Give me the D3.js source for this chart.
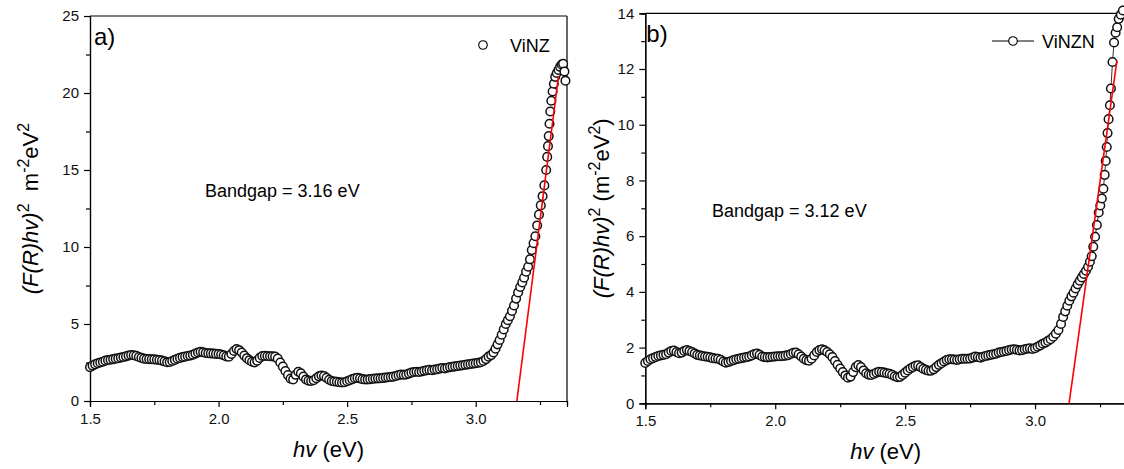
<!DOCTYPE html>
<html>
<head>
<meta charset="utf-8">
<script src="https://cdn.jsdelivr.net/npm/d3@7"></script>
<style>
  body { margin: 0; background: #fff; }
  svg { display: block; font-family: "Liberation Sans", Arial, sans-serif; }
  text { white-space: pre; }
</style>
</head>
<body>
<svg id="viz" width="1124" height="469"></svg>
<script>
// ---- data ----
var xTicks = [1.5, 2.0, 2.5, 3.0];
var xMinor = [1.75, 2.25, 2.75, 3.25];
var yTicksA = [0, 5, 10, 15, 20, 25];
var yMinorA = [2.5, 7.5, 12.5, 17.5, 22.5];
var yTicksB = [0, 2, 4, 6, 8, 10, 12, 14];
var yMinorB = [1, 3, 5, 7, 9, 11, 13];

// panel a) ViNZ
var vinzX = [
  1.50,1.51,1.52,1.53,1.54,1.55,1.56,1.57,1.58,1.59,
  1.60,1.61,1.62,1.63,1.64,1.65,1.66,1.67,1.68,1.69,
  1.70,1.71,1.72,1.73,1.74,1.75,1.76,1.77,1.78,1.79,
  1.80,1.81,1.82,1.83,1.84,1.85,1.86,1.87,1.88,1.89,
  1.90,1.91,1.92,1.93,1.94,1.95,1.96,1.97,1.98,1.99,
  2.00,2.01,2.02,2.03,2.04,2.05,2.06,2.07,2.08,2.09,
  2.10,2.11,2.12,2.13,2.14,2.15,2.16,2.17,2.18,2.19,
  2.20,2.21,2.22,2.23,2.24,2.25,2.26,2.27,2.28,2.29,
  2.30,2.31,2.32,2.33,2.34,2.35,2.36,2.37,2.38,2.39,
  2.40,2.41,2.42,2.43,2.44,2.45,2.46,2.47,2.48,2.49,
  2.50,2.51,2.52,2.53,2.54,2.55,2.56,2.57,2.58,2.59,
  2.60,2.61,2.62,2.63,2.64,2.65,2.66,2.67,2.68,2.69,
  2.70,2.71,2.72,2.73,2.74,2.75,2.76,2.77,2.78,2.79,
  2.80,2.81,2.82,2.83,2.84,2.85,2.86,2.87,2.88,2.89,
  2.90,2.91,2.92,2.93,2.94,2.95,2.96,2.97,2.98,2.99,
  3.00,3.01,3.02,3.03,3.04,3.05,
  3.060,3.069,3.077,3.085,3.093,3.101,3.109,3.117,3.125,3.133,
  3.141,3.149,3.157,3.165,3.173,3.181,3.188,3.196,3.204,3.211,
  3.218,3.225,3.232,3.239,3.246,3.253,3.260,3.267,3.274,3.278,
  3.281,3.284,3.287,3.290,3.294,3.299,3.304,3.309,3.315,3.322,
  3.328,3.334,3.340,3.345,3.349
];
var vinzY = [
  2.20,2.30,2.38,2.45,2.50,2.55,2.62,2.66,2.68,2.72,
  2.75,2.78,2.82,2.86,2.90,2.95,2.99,2.97,2.93,2.86,
  2.80,2.75,2.73,2.72,2.71,2.70,2.68,2.66,2.62,2.57,
  2.52,2.53,2.60,2.67,2.74,2.80,2.85,2.88,2.92,2.95,
  3.00,3.08,3.15,3.20,3.17,3.12,3.10,3.09,3.08,3.06,
  3.05,3.02,2.97,2.90,2.88,3.05,3.25,3.38,3.30,3.15,
  2.95,2.78,2.65,2.55,2.51,2.62,2.80,2.92,2.93,2.92,
  2.91,2.90,2.88,2.75,2.50,2.23,1.95,1.68,1.45,1.40,
  1.70,1.90,1.80,1.58,1.40,1.32,1.30,1.35,1.48,1.60,
  1.66,1.62,1.50,1.38,1.30,1.27,1.25,1.22,1.20,1.22,
  1.28,1.35,1.42,1.48,1.50,1.47,1.42,1.40,1.40,1.42,
  1.44,1.46,1.47,1.48,1.50,1.52,1.54,1.56,1.58,1.62,
  1.68,1.72,1.70,1.72,1.78,1.84,1.88,1.90,1.88,1.92,
  1.96,2.00,2.02,2.00,2.04,2.06,2.10,2.14,2.12,2.16,
  2.20,2.22,2.25,2.27,2.30,2.32,2.35,2.38,2.40,2.43,
  2.45,2.48,2.52,2.60,2.72,2.88,
  2.98,3.15,3.40,3.68,3.96,4.30,4.65,5.00,5.25,5.50,
  5.85,6.20,6.65,7.05,7.40,7.70,8.00,8.40,8.72,9.20,
  9.80,10.25,10.70,11.40,12.10,12.70,13.30,14.00,15.00,15.85,
  16.55,17.20,18.00,18.80,19.50,20.10,20.60,21.05,21.30,21.50,
  21.70,21.85,21.90,21.40,20.80
];
var fitA = [[3.16, 0], [3.322, 21.1]];

// panel b) ViNZN
var vinznX = [
  1.50,1.51,1.52,1.53,1.54,1.55,1.56,1.57,1.58,1.59,
  1.60,1.61,1.62,1.63,1.64,1.65,1.66,1.67,1.68,1.69,
  1.70,1.71,1.72,1.73,1.74,1.75,1.76,1.77,1.78,1.79,
  1.80,1.81,1.82,1.83,1.84,1.85,1.86,1.87,1.88,1.89,
  1.90,1.91,1.92,1.93,1.94,1.95,1.96,1.97,1.98,1.99,
  2.00,2.01,2.02,2.03,2.04,2.05,2.06,2.07,2.08,2.09,
  2.10,2.11,2.12,2.13,2.14,2.15,2.16,2.17,2.18,2.19,
  2.20,2.21,2.22,2.23,2.24,2.25,2.26,2.27,2.28,2.29,
  2.30,2.31,2.32,2.33,2.34,2.35,2.36,2.37,2.38,2.39,
  2.40,2.41,2.42,2.43,2.44,2.45,2.46,2.47,2.48,2.49,
  2.50,2.51,2.52,2.53,2.54,2.55,2.56,2.57,2.58,2.59,
  2.60,2.61,2.62,2.63,2.64,2.65,2.66,2.67,2.68,2.69,
  2.70,2.71,2.72,2.73,2.74,2.75,2.76,2.77,2.78,2.79,
  2.80,2.81,2.82,2.83,2.84,2.85,2.86,2.87,2.88,2.89,
  2.90,2.91,2.92,2.93,2.94,2.95,2.96,2.97,2.98,2.99,
  3.00,3.01,3.02,3.03,3.04,3.05,3.06,3.07,3.08,3.09,
  3.100,3.108,3.116,3.124,3.132,3.140,3.148,3.156,3.164,3.172,
  3.180,3.188,3.196,3.204,3.211,3.218,3.224,3.231,3.238,3.245,
  3.251,3.257,3.263,3.268,3.272,3.276,3.279,3.283,3.288,3.292,
  3.298,3.304,3.310,3.316,3.322,3.330,3.338
];
var vinznY = [
  1.45,1.52,1.58,1.62,1.66,1.70,1.72,1.74,1.76,1.82,
  1.88,1.89,1.84,1.80,1.82,1.88,1.91,1.88,1.84,1.79,
  1.74,1.72,1.70,1.68,1.67,1.65,1.62,1.61,1.60,1.56,
  1.50,1.46,1.48,1.52,1.55,1.58,1.60,1.62,1.64,1.66,
  1.68,1.72,1.77,1.79,1.74,1.68,1.66,1.65,1.66,1.67,
  1.68,1.69,1.69,1.70,1.71,1.73,1.77,1.81,1.82,1.76,
  1.68,1.60,1.55,1.53,1.60,1.72,1.84,1.91,1.94,1.90,
  1.84,1.76,1.66,1.52,1.38,1.25,1.12,1.00,0.92,0.96,
  1.12,1.30,1.37,1.30,1.18,1.08,1.03,1.02,1.05,1.10,
  1.13,1.12,1.10,1.08,1.06,1.02,0.97,0.94,0.95,1.02,
  1.10,1.18,1.25,1.30,1.35,1.36,1.30,1.24,1.20,1.17,
  1.17,1.22,1.30,1.38,1.44,1.50,1.55,1.58,1.58,1.57,
  1.56,1.58,1.60,1.60,1.60,1.61,1.64,1.68,1.66,1.64,
  1.67,1.70,1.72,1.74,1.76,1.78,1.82,1.84,1.86,1.88,
  1.91,1.93,1.94,1.92,1.90,1.91,1.94,1.96,1.97,1.95,
  1.98,2.03,2.08,2.14,2.18,2.24,2.30,2.39,2.50,2.63,
  2.85,3.10,3.30,3.50,3.68,3.84,3.97,4.12,4.27,4.40,
  4.52,4.64,4.76,4.90,5.08,5.28,5.62,5.98,6.40,6.85,
  7.10,7.35,7.70,8.20,8.70,9.20,9.70,10.20,10.70,11.30,
  12.25,12.95,13.30,13.50,13.80,13.95,14.10
];
var fitB = [[3.131, 0], [3.315, 12.3]];

// ---- drawing ----
var svg = d3.select("#viz");
var FS_TICK = 15, FS_TITLE = 22, R = 4.3;

// text with italic / superscript pieces
function richText(sel, parts, fs) {
  var shift = 0;
  parts.forEach(function(p) {
    var t = sel.append("tspan").text(p.t);
    var target = p.sup ? -Math.round(fs * 0.42) : 0;
    if (target !== shift) { t.attr("dy", target - shift); shift = target; }
    if (p.sup) t.attr("font-size", Math.round(fs * 0.72));
    if (p.it) t.attr("font-style", "italic");
  });
}

function drawPanel(cfg) {
  var x = d3.scaleLinear().domain([1.5, cfg.xmax]).range([cfg.left, cfg.right]);
  var y = d3.scaleLinear().domain([0, cfg.ymax]).range([cfg.bottom, cfg.top]);
  var g = svg.append("g");

  // frame: top and right lines
  g.append("line").attr("x1", cfg.left).attr("x2", cfg.right)
    .attr("y1", cfg.top).attr("y2", cfg.top)
    .attr("stroke", "#000").attr("stroke-width", 1.2);
  g.append("line").attr("x1", cfg.right).attr("x2", cfg.right)
    .attr("y1", cfg.top).attr("y2", cfg.bottom)
    .attr("stroke", "#000").attr("stroke-width", 1.2);

  // minor ticks
  g.append("g").attr("transform", "translate(0," + cfg.bottom + ")")
    .call(d3.axisBottom(x).tickValues(xMinor.filter(function(v){ return v < cfg.xmax; }))
      .tickSize(4).tickFormat(""));
  g.append("g").attr("transform", "translate(" + cfg.left + ",0)")
    .call(d3.axisLeft(y).tickValues(cfg.yMinor).tickSize(4).tickFormat(""));

  // major ticks
  g.append("g").attr("transform", "translate(0," + cfg.bottom + ")")
    .call(d3.axisBottom(x).tickValues(xTicks).tickSize(6).tickPadding(6)
      .tickFormat(d3.format(".1f")));
  g.append("g").attr("transform", "translate(" + cfg.left + ",0)")
    .call(d3.axisLeft(y).tickValues(cfg.yTicks).tickSize(6).tickPadding(5)
      .tickFormat(d3.format("d")));

  g.selectAll(".domain").attr("stroke", "#000").attr("stroke-width", 1.2);
  g.selectAll(".tick line").attr("stroke", "#000").attr("stroke-width", 1.2);
  g.selectAll(".tick text").attr("font-size", FS_TICK)
    .attr("font-family", "'Liberation Sans', Arial, sans-serif").attr("fill", "#111");

  var pts = cfg.xs.map(function(v, i) { return [v, cfg.ys[i]]; });

  if (cfg.connect) {
    g.append("path").datum(pts)
      .attr("d", d3.line().x(function(d){ return x(d[0]); }).y(function(d){ return y(d[1]); }))
      .attr("fill", "none").attr("stroke", "#000").attr("stroke-width", 0.8);
  }

  g.append("g").selectAll("circle").data(pts).enter().append("circle")
    .attr("cx", function(d){ return x(d[0]); })
    .attr("cy", function(d){ return y(d[1]); })
    .attr("r", R)
    .attr("fill", "#fff").attr("stroke", "#111").attr("stroke-width", 1.5);

  // linear fit line
  g.append("line")
    .attr("x1", x(cfg.fit[0][0])).attr("y1", y(cfg.fit[0][1]))
    .attr("x2", x(cfg.fit[1][0])).attr("y2", y(cfg.fit[1][1]))
    .attr("stroke", "#ff0000").attr("stroke-width", 1.6);

  // panel letter
  g.append("text").attr("x", cfg.left + cfg.letterDx).attr("y", cfg.top + 29)
    .attr("font-size", 24).text(cfg.letter);

  // bandgap note
  g.append("text").attr("x", cfg.noteX).attr("y", cfg.noteY)
    .attr("font-size", 18).text(cfg.note);

  // legend
  var lg = g.append("g").attr("transform", "translate(" + cfg.legX + "," + cfg.legY + ")");
  if (cfg.connect) {
    lg.append("line").attr("x1", -21).attr("x2", 21).attr("y1", 0).attr("y2", 0)
      .attr("stroke", "#000").attr("stroke-width", 1);
  }
  lg.append("circle").attr("r", R).attr("fill", "#fff")
    .attr("stroke", "#000").attr("stroke-width", 1.1);
  lg.append("text").attr("x", cfg.legTextDx).attr("y", 6.5)
    .attr("font-size", 18).text(cfg.name);

  // x title
  var xt = g.append("text")
    .attr("x", (cfg.left + cfg.right) / 2).attr("y", cfg.bottom + 56)
    .attr("text-anchor", "middle").attr("font-size", FS_TITLE);
  richText(xt, [{t: "hv", it: true}, {t: " (eV)"}], FS_TITLE);

  // y title
  var yt = g.append("text")
    .attr("transform", "translate(" + cfg.yTitleX + "," + ((cfg.top + cfg.bottom) / 2) + ") rotate(-90)")
    .attr("text-anchor", "middle").attr("font-size", FS_TITLE);
  richText(yt, cfg.yTitle, FS_TITLE);
}

drawPanel({
  left: 90, right: 567, top: 16, bottom: 401,
  xmax: 3.355, ymax: 25, yTicks: yTicksA, yMinor: yMinorA,
  xs: vinzX, ys: vinzY, fit: fitA, connect: false,
  letter: "a)", letterDx: 4,
  note: "Bandgap = 3.16 eV", noteX: 205, noteY: 197,
  legX: 483, legY: 45, legTextDx: 27, name: "ViNZ",
  yTitleX: 38,
  yTitle: [{t: "(F(R)hv)", it: true}, {t: "2", sup: true}, {t: "  m"},
           {t: "-2", sup: true}, {t: "eV"}, {t: "2", sup: true}]
});

drawPanel({
  left: 645.3, right: 1126, top: 13.3, bottom: 403.3,
  xmax: 3.35, ymax: 14, yTicks: yTicksB, yMinor: yMinorB,
  xs: vinznX, ys: vinznY, fit: fitB, connect: true,
  letter: "b)", letterDx: 1,
  note: "Bandgap = 3.12 eV", noteX: 712, noteY: 217,
  legX: 1013, legY: 41, legTextDx: 29, name: "ViNZN",
  yTitleX: 609,
  yTitle: [{t: "(F(R)hv)", it: true}, {t: "2", sup: true}, {t: " (m"},
           {t: "-2", sup: true}, {t: "eV"}, {t: "2", sup: true}, {t: ")"}]
});
</script>
</body>
</html>
